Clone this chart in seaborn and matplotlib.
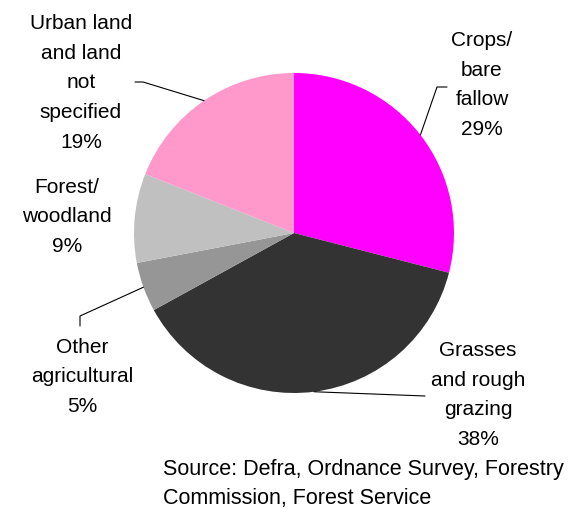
import numpy as np
import matplotlib
matplotlib.use("Agg")
import matplotlib.pyplot as plt
import seaborn as sns

# ---- data ----
categories = ["Crops/\nbare\nfallow", "Grasses\nand rough\ngrazing", "Other\nagricultural",
              "Forest/\nwoodland", "Urban land\nand land\nnot\nspecified"]
shares = [29, 38, 5, 9, 19]
colors = ["#FF00FF", "#333333", "#969696", "#C0C0C0", "#FF99CC"]
source_text = "Source: Defra, Ordnance Survey, Forestry\nCommission, Forest Service"

sns.set_theme(style="white")
plt.rcParams["font.family"] = ["Liberation Sans", "DejaVu Sans"]

W, H = 586, 510
fig = plt.figure(figsize=(W / 100, H / 100), dpi=100)
ax = fig.add_axes([0, 0, 1, 1])

def Y(yp):
    return H - yp

cx, cy, R = 294, Y(234), 160
wedges, _ = ax.pie(shares, colors=colors, startangle=90, counterclock=False,
                   radius=R, center=(cx, cy), wedgeprops=dict(linewidth=0))
ax.set_xlim(0, W)
ax.set_ylim(0, H)
ax.set_aspect("equal")
ax.axis("off")

# label positions (pixel coords of block centers) and leader elbows
label_pos = [(482, 85), (478, 395), (82, 377), (67, 217), (81, 83)]
elbows = [
    [(437, 88), (447, 88)],      # crops
    [(425, 397)],                # grasses
    [(80, 317), (80, 327)],      # other agricultural
    None,                        # forest: no leader
    [(143, 83), (135, 83)],      # urban
]

for w, cat, val, (lx, ly), el in zip(wedges, categories, shares, label_pos, elbows):
    ax.text(lx, Y(ly), f"{cat}\n{val}%", ha="center", va="center",
            fontsize=15, linespacing=1.72, color="black")
    if el is not None:
        mid = np.deg2rad((w.theta1 + w.theta2) / 2)
        px, py = cx + R * np.cos(mid), cy + R * np.sin(mid)
        xs = [px] + [e[0] for e in el]
        ys = [py] + [Y(e[1]) for e in el]
        ax.plot(xs, ys, color="black", lw=0.8)

ax.text(163, Y(484), source_text, ha="left", va="center", fontsize=15.5,
        linespacing=1.45, color="black")

fig.savefig("out.png", dpi=100, facecolor="white")
